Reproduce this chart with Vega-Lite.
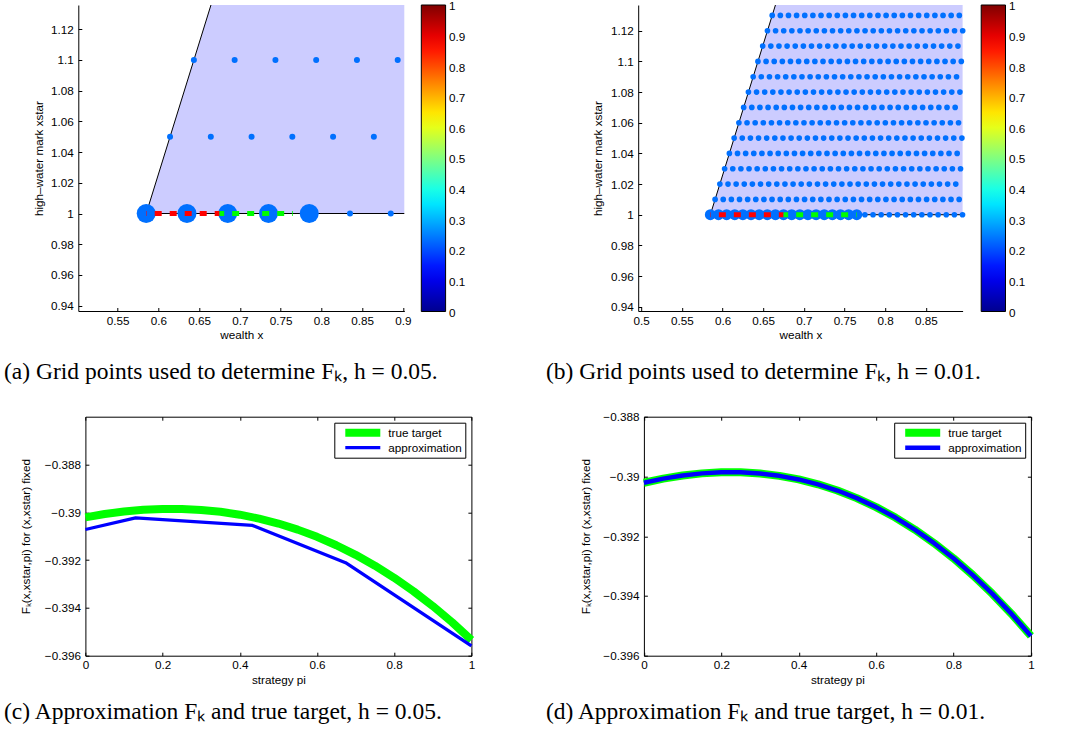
{
  "$schema": "https://vega.github.io/schema/vega-lite/v6.json",
  "autosize": {"type": "none"},
  "padding": {"left": 78.3, "top": 5, "right": 1012.7, "bottom": 731},
  "background": "#ffffff",
  "columns": 2,
  "bounds": "flush",
  "align": "all",
  "spacing": {"row": 105.7, "column": 165.9},
  "resolve": {"scale": {"color": "independent", "strokeWidth": "independent"}, "legend": {"color": "independent", "strokeWidth": "independent"}},
  "config": {
    "view": {"stroke": null},
    "font": "Liberation Sans",
    "axis": {
      "labelFont": "Liberation Sans", "labelFontSize": 11.7, "labelColor": "#000",
      "titleFont": "Liberation Sans", "titleFontSize": 11.7, "titleFontWeight": "normal", "titleColor": "#000",
      "domainColor": "#000", "domainWidth": 1, "tickColor": "#000", "tickWidth": 1, "tickSize": -3.5,
      "grid": false, "labelFlush": false, "labelOverlap": false, "tickCount": 30
    },
    "axisX": {"labelPadding": 7.5, "titlePadding": 3},
    "axisY": {"labelPadding": 8.5, "titlePadding": 6.5},
    "title": {"font": "Liberation Serif", "fontSize": 23.5, "fontWeight": "normal", "color": "#000", "orient": "bottom", "anchor": "start", "frame": "group", "offset": 14}
  },
  "concat": [
    {
      "width": 326, "height": 306,
      "title": {"text": "(a) Grid points used to determine Fₖ, h = 0.05.", "dx": -74.3, "dy": 5},
      "layer": [
        {
          "data": {"values": [{"x": 0.585, "x2": 0.9016, "y": 1}, {"x": 0.66443, "x2": 0.9016, "y": 1.1358}]},
          "mark": {"type": "area", "orient": "horizontal", "color": "#ccccff", "opacity": 1},
          "encoding": {
            "y": {"field": "y", "type": "quantitative", "scale": {"domain": [0.9365, 1.1358], "nice": false, "zero": false}, "title": "high–water mark xstar", "axis": {"values": [0.94, 0.96, 0.98, 1, 1.02, 1.04, 1.06, 1.08, 1.1, 1.12], "tickCount": 30, "format": ".2~f", "labelOverlap": false}},
            "x": {"field": "x", "type": "quantitative", "scale": {"domain": [0.5017, 0.9016], "nice": false, "zero": false}, "title": "wealth x", "axis": {"values": [0.55, 0.6, 0.65, 0.7, 0.75, 0.8, 0.85, 0.9], "tickCount": 30, "format": ".2~f", "labelOverlap": false}},
            "x2": {"field": "x2"}
          }
        },
        {
          "data": {"values": [{"x": 0.66443, "y": 1.1358, "o": 1}, {"x": 0.585, "y": 1, "o": 2}, {"x": 0.9016, "y": 1, "o": 3}]},
          "mark": {"type": "line", "color": "#000", "strokeWidth": 1},
          "encoding": {
            "x": {"field": "x", "type": "quantitative", "scale": {"domain": [0.5017, 0.9016], "nice": false, "zero": false}, "title": "wealth x"},
            "y": {"field": "y", "type": "quantitative", "scale": {"domain": [0.9365, 1.1358], "nice": false, "zero": false}, "title": "high–water mark xstar"},
            "order": {"field": "o", "type": "quantitative"}
          }
        },
        {
          "data": {"values": [
            {"x": 0.6435, "y": 1.1}, {"x": 0.6935, "y": 1.1}, {"x": 0.7435, "y": 1.1}, {"x": 0.7935, "y": 1.1}, {"x": 0.8435, "y": 1.1}, {"x": 0.8935, "y": 1.1},
            {"x": 0.61425, "y": 1.05}, {"x": 0.66425, "y": 1.05}, {"x": 0.71425, "y": 1.05}, {"x": 0.76425, "y": 1.05}, {"x": 0.81425, "y": 1.05}, {"x": 0.86425, "y": 1.05},
            {"x": 0.835, "y": 1}, {"x": 0.885, "y": 1}
          ]},
          "mark": {"type": "circle", "size": 36, "color": "#0070ff", "opacity": 1},
          "encoding": {
            "x": {"field": "x", "type": "quantitative", "scale": {"domain": [0.5017, 0.9016], "nice": false, "zero": false}, "title": "wealth x"},
            "y": {"field": "y", "type": "quantitative", "scale": {"domain": [0.9365, 1.1358], "nice": false, "zero": false}, "title": "high–water mark xstar"}
          }
        },
        {
          "data": {"values": [{"x": 0.585, "y": 1}, {"x": 0.635, "y": 1}, {"x": 0.685, "y": 1}, {"x": 0.735, "y": 1}, {"x": 0.785, "y": 1}]},
          "mark": {"type": "circle", "size": 361, "color": "#0070ff", "opacity": 1},
          "encoding": {
            "x": {"field": "x", "type": "quantitative", "scale": {"domain": [0.5017, 0.9016], "nice": false, "zero": false}, "title": "wealth x"},
            "y": {"field": "y", "type": "quantitative", "scale": {"domain": [0.9365, 1.1358], "nice": false, "zero": false}, "title": "high–water mark xstar"}
          }
        },
        {
          "data": {"values": [{"x": 0.585, "x2": 0.675, "y": 1}]},
          "mark": {"type": "rule", "color": "#ff0000", "strokeWidth": 5, "strokeDash": [7, 8], "strokeDashOffset": 6.5},
          "encoding": {
            "x": {"field": "x", "type": "quantitative", "scale": {"domain": [0.5017, 0.9016], "nice": false, "zero": false}, "title": "wealth x"},
            "x2": {"field": "x2"},
            "y": {"field": "y", "type": "quantitative", "scale": {"domain": [0.9365, 1.1358], "nice": false, "zero": false}, "title": "high–water mark xstar"}
          }
        },
        {
          "data": {"values": [{"x": 0.675, "x2": 0.765, "y": 1}]},
          "mark": {"type": "rule", "color": "#00ff00", "strokeWidth": 5, "strokeDash": [7, 8], "strokeDashOffset": 2.4},
          "encoding": {
            "x": {"field": "x", "type": "quantitative", "scale": {"domain": [0.5017, 0.9016], "nice": false, "zero": false}, "title": "wealth x"},
            "x2": {"field": "x2"},
            "y": {"field": "y", "type": "quantitative", "scale": {"domain": [0.9365, 1.1358], "nice": false, "zero": false}, "title": "high–water mark xstar"}
          }
        },
        {
          "data": {"values": [{"v": 0}, {"v": 1}]},
          "mark": {"type": "square", "size": 0, "opacity": 1},
          "encoding": {
            "color": {"field": "v", "type": "quantitative",
              "scale": {"domain": [0, 0.125, 0.375, 0.625, 0.875, 1], "range": ["#00008f", "#0000ff", "#00ffff", "#ffff00", "#ff0000", "#800000"], "interpolate": "rgb"},
              "legend": {"orient": "right", "direction": "vertical", "offset": 17.4, "title": null, "padding": 0, "gradientLength": 306.5, "gradientThickness": 24.3, "gradientStrokeColor": "#000", "gradientStrokeWidth": 1, "gradientOpacity": 1, "values": [0, 0.1, 0.2, 0.3, 0.4, 0.5, 0.6, 0.7, 0.8, 0.9, 1], "format": ".1~f", "labelFont": "Liberation Sans", "labelFontSize": 11.7, "labelColor": "#000", "labelOffset": 3.5, "labelOverlap": false,
                "encode": {"labels": {"update": {"baseline": {"value": "middle"}, "dy": {"value": 1.2}}}, "gradient": {"update": {"opacity": {"value": 1}}}}}
            }
          }
        }
      ]
    },
    {
      "width": 324.4, "height": 306,
      "title": {"text": "(b) Grid points used to determine Fₖ, h = 0.01.", "dx": -92.3, "dy": 5},
      "layer": [
        {
          "data": {"values": [{"x": 0.585, "x2": 0.8951, "y": 1}, {"x": 0.66503, "x2": 0.8951, "y": 1.1368}]},
          "mark": {"type": "area", "orient": "horizontal", "color": "#ccccff", "opacity": 1},
          "encoding": {
            "y": {"field": "y", "type": "quantitative", "scale": {"domain": [0.9372, 1.1368], "nice": false, "zero": false}, "title": "high–water mark xstar", "axis": {"values": [0.94, 0.96, 0.98, 1, 1.02, 1.04, 1.06, 1.08, 1.1, 1.12], "tickCount": 30, "format": ".2~f", "labelOverlap": false}},
            "x": {"field": "x", "type": "quantitative", "scale": {"domain": [0.4963, 0.8951], "nice": false, "zero": false}, "title": "wealth x", "axis": {"values": [0.5, 0.55, 0.6, 0.65, 0.7, 0.75, 0.8, 0.85], "tickCount": 30, "format": ".2~f", "labelOverlap": false}},
            "x2": {"field": "x2"}
          }
        },
        {
          "data": {"values": [{"x": 0.66503, "y": 1.1368, "o": 1}, {"x": 0.585, "y": 1, "o": 2}, {"x": 0.8951, "y": 1, "o": 3}]},
          "mark": {"type": "line", "color": "#000", "strokeWidth": 1},
          "encoding": {
            "x": {"field": "x", "type": "quantitative", "scale": {"domain": [0.4963, 0.8951], "nice": false, "zero": false}, "title": "wealth x"},
            "y": {"field": "y", "type": "quantitative", "scale": {"domain": [0.9372, 1.1368], "nice": false, "zero": false}, "title": "high–water mark xstar"},
            "order": {"field": "o", "type": "quantitative"}
          }
        },
        {
          "data": {"values": [
            {"x":0.775,"y":1},{"x":0.785,"y":1},{"x":0.795,"y":1},{"x":0.805,"y":1},{"x":0.815,"y":1},{"x":0.825,"y":1},{"x":0.835,"y":1},{"x":0.845,"y":1},{"x":0.855,"y":1},{"x":0.865,"y":1},{"x":0.875,"y":1},{"x":0.885,"y":1},{"x":0.895,"y":1},
            {"x":0.59085,"y":1.01},{"x":0.60085,"y":1.01},{"x":0.61085,"y":1.01},{"x":0.62085,"y":1.01},{"x":0.63085,"y":1.01},{"x":0.64085,"y":1.01},{"x":0.65085,"y":1.01},{"x":0.66085,"y":1.01},{"x":0.67085,"y":1.01},{"x":0.68085,"y":1.01},{"x":0.69085,"y":1.01},{"x":0.70085,"y":1.01},{"x":0.71085,"y":1.01},{"x":0.72085,"y":1.01},{"x":0.73085,"y":1.01},{"x":0.74085,"y":1.01},{"x":0.75085,"y":1.01},{"x":0.76085,"y":1.01},{"x":0.77085,"y":1.01},{"x":0.78085,"y":1.01},{"x":0.79085,"y":1.01},{"x":0.80085,"y":1.01},{"x":0.81085,"y":1.01},{"x":0.82085,"y":1.01},{"x":0.83085,"y":1.01},{"x":0.84085,"y":1.01},{"x":0.85085,"y":1.01},{"x":0.86085,"y":1.01},{"x":0.87085,"y":1.01},{"x":0.88085,"y":1.01},{"x":0.89085,"y":1.01},
            {"x":0.5967,"y":1.02},{"x":0.6067,"y":1.02},{"x":0.6167,"y":1.02},{"x":0.6267,"y":1.02},{"x":0.6367,"y":1.02},{"x":0.6467,"y":1.02},{"x":0.6567,"y":1.02},{"x":0.6667,"y":1.02},{"x":0.6767,"y":1.02},{"x":0.6867,"y":1.02},{"x":0.6967,"y":1.02},{"x":0.7067,"y":1.02},{"x":0.7167,"y":1.02},{"x":0.7267,"y":1.02},{"x":0.7367,"y":1.02},{"x":0.7467,"y":1.02},{"x":0.7567,"y":1.02},{"x":0.7667,"y":1.02},{"x":0.7767,"y":1.02},{"x":0.7867,"y":1.02},{"x":0.7967,"y":1.02},{"x":0.8067,"y":1.02},{"x":0.8167,"y":1.02},{"x":0.8267,"y":1.02},{"x":0.8367,"y":1.02},{"x":0.8467,"y":1.02},{"x":0.8567,"y":1.02},{"x":0.8667,"y":1.02},{"x":0.8767,"y":1.02},{"x":0.8867,"y":1.02},
            {"x":0.60255,"y":1.03},{"x":0.61255,"y":1.03},{"x":0.62255,"y":1.03},{"x":0.63255,"y":1.03},{"x":0.64255,"y":1.03},{"x":0.65255,"y":1.03},{"x":0.66255,"y":1.03},{"x":0.67255,"y":1.03},{"x":0.68255,"y":1.03},{"x":0.69255,"y":1.03},{"x":0.70255,"y":1.03},{"x":0.71255,"y":1.03},{"x":0.72255,"y":1.03},{"x":0.73255,"y":1.03},{"x":0.74255,"y":1.03},{"x":0.75255,"y":1.03},{"x":0.76255,"y":1.03},{"x":0.77255,"y":1.03},{"x":0.78255,"y":1.03},{"x":0.79255,"y":1.03},{"x":0.80255,"y":1.03},{"x":0.81255,"y":1.03},{"x":0.82255,"y":1.03},{"x":0.83255,"y":1.03},{"x":0.84255,"y":1.03},{"x":0.85255,"y":1.03},{"x":0.86255,"y":1.03},{"x":0.87255,"y":1.03},{"x":0.88255,"y":1.03},{"x":0.89255,"y":1.03},
            {"x":0.6084,"y":1.04},{"x":0.6184,"y":1.04},{"x":0.6284,"y":1.04},{"x":0.6384,"y":1.04},{"x":0.6484,"y":1.04},{"x":0.6584,"y":1.04},{"x":0.6684,"y":1.04},{"x":0.6784,"y":1.04},{"x":0.6884,"y":1.04},{"x":0.6984,"y":1.04},{"x":0.7084,"y":1.04},{"x":0.7184,"y":1.04},{"x":0.7284,"y":1.04},{"x":0.7384,"y":1.04},{"x":0.7484,"y":1.04},{"x":0.7584,"y":1.04},{"x":0.7684,"y":1.04},{"x":0.7784,"y":1.04},{"x":0.7884,"y":1.04},{"x":0.7984,"y":1.04},{"x":0.8084,"y":1.04},{"x":0.8184,"y":1.04},{"x":0.8284,"y":1.04},{"x":0.8384,"y":1.04},{"x":0.8484,"y":1.04},{"x":0.8584,"y":1.04},{"x":0.8684,"y":1.04},{"x":0.8784,"y":1.04},{"x":0.8884,"y":1.04},
            {"x":0.61425,"y":1.05},{"x":0.62425,"y":1.05},{"x":0.63425,"y":1.05},{"x":0.64425,"y":1.05},{"x":0.65425,"y":1.05},{"x":0.66425,"y":1.05},{"x":0.67425,"y":1.05},{"x":0.68425,"y":1.05},{"x":0.69425,"y":1.05},{"x":0.70425,"y":1.05},{"x":0.71425,"y":1.05},{"x":0.72425,"y":1.05},{"x":0.73425,"y":1.05},{"x":0.74425,"y":1.05},{"x":0.75425,"y":1.05},{"x":0.76425,"y":1.05},{"x":0.77425,"y":1.05},{"x":0.78425,"y":1.05},{"x":0.79425,"y":1.05},{"x":0.80425,"y":1.05},{"x":0.81425,"y":1.05},{"x":0.82425,"y":1.05},{"x":0.83425,"y":1.05},{"x":0.84425,"y":1.05},{"x":0.85425,"y":1.05},{"x":0.86425,"y":1.05},{"x":0.87425,"y":1.05},{"x":0.88425,"y":1.05},{"x":0.89425,"y":1.05},
            {"x":0.6201,"y":1.06},{"x":0.6301,"y":1.06},{"x":0.6401,"y":1.06},{"x":0.6501,"y":1.06},{"x":0.6601,"y":1.06},{"x":0.6701,"y":1.06},{"x":0.6801,"y":1.06},{"x":0.6901,"y":1.06},{"x":0.7001,"y":1.06},{"x":0.7101,"y":1.06},{"x":0.7201,"y":1.06},{"x":0.7301,"y":1.06},{"x":0.7401,"y":1.06},{"x":0.7501,"y":1.06},{"x":0.7601,"y":1.06},{"x":0.7701,"y":1.06},{"x":0.7801,"y":1.06},{"x":0.7901,"y":1.06},{"x":0.8001,"y":1.06},{"x":0.8101,"y":1.06},{"x":0.8201,"y":1.06},{"x":0.8301,"y":1.06},{"x":0.8401,"y":1.06},{"x":0.8501,"y":1.06},{"x":0.8601,"y":1.06},{"x":0.8701,"y":1.06},{"x":0.8801,"y":1.06},{"x":0.8901,"y":1.06},
            {"x":0.62595,"y":1.07},{"x":0.63595,"y":1.07},{"x":0.64595,"y":1.07},{"x":0.65595,"y":1.07},{"x":0.66595,"y":1.07},{"x":0.67595,"y":1.07},{"x":0.68595,"y":1.07},{"x":0.69595,"y":1.07},{"x":0.70595,"y":1.07},{"x":0.71595,"y":1.07},{"x":0.72595,"y":1.07},{"x":0.73595,"y":1.07},{"x":0.74595,"y":1.07},{"x":0.75595,"y":1.07},{"x":0.76595,"y":1.07},{"x":0.77595,"y":1.07},{"x":0.78595,"y":1.07},{"x":0.79595,"y":1.07},{"x":0.80595,"y":1.07},{"x":0.81595,"y":1.07},{"x":0.82595,"y":1.07},{"x":0.83595,"y":1.07},{"x":0.84595,"y":1.07},{"x":0.85595,"y":1.07},{"x":0.86595,"y":1.07},{"x":0.87595,"y":1.07},{"x":0.88595,"y":1.07},
            {"x":0.6318,"y":1.08},{"x":0.6418,"y":1.08},{"x":0.6518,"y":1.08},{"x":0.6618,"y":1.08},{"x":0.6718,"y":1.08},{"x":0.6818,"y":1.08},{"x":0.6918,"y":1.08},{"x":0.7018,"y":1.08},{"x":0.7118,"y":1.08},{"x":0.7218,"y":1.08},{"x":0.7318,"y":1.08},{"x":0.7418,"y":1.08},{"x":0.7518,"y":1.08},{"x":0.7618,"y":1.08},{"x":0.7718,"y":1.08},{"x":0.7818,"y":1.08},{"x":0.7918,"y":1.08},{"x":0.8018,"y":1.08},{"x":0.8118,"y":1.08},{"x":0.8218,"y":1.08},{"x":0.8318,"y":1.08},{"x":0.8418,"y":1.08},{"x":0.8518,"y":1.08},{"x":0.8618,"y":1.08},{"x":0.8718,"y":1.08},{"x":0.8818,"y":1.08},{"x":0.8918,"y":1.08},
            {"x":0.63765,"y":1.09},{"x":0.64765,"y":1.09},{"x":0.65765,"y":1.09},{"x":0.66765,"y":1.09},{"x":0.67765,"y":1.09},{"x":0.68765,"y":1.09},{"x":0.69765,"y":1.09},{"x":0.70765,"y":1.09},{"x":0.71765,"y":1.09},{"x":0.72765,"y":1.09},{"x":0.73765,"y":1.09},{"x":0.74765,"y":1.09},{"x":0.75765,"y":1.09},{"x":0.76765,"y":1.09},{"x":0.77765,"y":1.09},{"x":0.78765,"y":1.09},{"x":0.79765,"y":1.09},{"x":0.80765,"y":1.09},{"x":0.81765,"y":1.09},{"x":0.82765,"y":1.09},{"x":0.83765,"y":1.09},{"x":0.84765,"y":1.09},{"x":0.85765,"y":1.09},{"x":0.86765,"y":1.09},{"x":0.87765,"y":1.09},{"x":0.88765,"y":1.09},
            {"x":0.6435,"y":1.1},{"x":0.6535,"y":1.1},{"x":0.6635,"y":1.1},{"x":0.6735,"y":1.1},{"x":0.6835,"y":1.1},{"x":0.6935,"y":1.1},{"x":0.7035,"y":1.1},{"x":0.7135,"y":1.1},{"x":0.7235,"y":1.1},{"x":0.7335,"y":1.1},{"x":0.7435,"y":1.1},{"x":0.7535,"y":1.1},{"x":0.7635,"y":1.1},{"x":0.7735,"y":1.1},{"x":0.7835,"y":1.1},{"x":0.7935,"y":1.1},{"x":0.8035,"y":1.1},{"x":0.8135,"y":1.1},{"x":0.8235,"y":1.1},{"x":0.8335,"y":1.1},{"x":0.8435,"y":1.1},{"x":0.8535,"y":1.1},{"x":0.8635,"y":1.1},{"x":0.8735,"y":1.1},{"x":0.8835,"y":1.1},{"x":0.8935,"y":1.1},
            {"x":0.64935,"y":1.11},{"x":0.65935,"y":1.11},{"x":0.66935,"y":1.11},{"x":0.67935,"y":1.11},{"x":0.68935,"y":1.11},{"x":0.69935,"y":1.11},{"x":0.70935,"y":1.11},{"x":0.71935,"y":1.11},{"x":0.72935,"y":1.11},{"x":0.73935,"y":1.11},{"x":0.74935,"y":1.11},{"x":0.75935,"y":1.11},{"x":0.76935,"y":1.11},{"x":0.77935,"y":1.11},{"x":0.78935,"y":1.11},{"x":0.79935,"y":1.11},{"x":0.80935,"y":1.11},{"x":0.81935,"y":1.11},{"x":0.82935,"y":1.11},{"x":0.83935,"y":1.11},{"x":0.84935,"y":1.11},{"x":0.85935,"y":1.11},{"x":0.86935,"y":1.11},{"x":0.87935,"y":1.11},{"x":0.88935,"y":1.11},
            {"x":0.6552,"y":1.12},{"x":0.6652,"y":1.12},{"x":0.6752,"y":1.12},{"x":0.6852,"y":1.12},{"x":0.6952,"y":1.12},{"x":0.7052,"y":1.12},{"x":0.7152,"y":1.12},{"x":0.7252,"y":1.12},{"x":0.7352,"y":1.12},{"x":0.7452,"y":1.12},{"x":0.7552,"y":1.12},{"x":0.7652,"y":1.12},{"x":0.7752,"y":1.12},{"x":0.7852,"y":1.12},{"x":0.7952,"y":1.12},{"x":0.8052,"y":1.12},{"x":0.8152,"y":1.12},{"x":0.8252,"y":1.12},{"x":0.8352,"y":1.12},{"x":0.8452,"y":1.12},{"x":0.8552,"y":1.12},{"x":0.8652,"y":1.12},{"x":0.8752,"y":1.12},{"x":0.8852,"y":1.12},{"x":0.8952,"y":1.12},
            {"x":0.66105,"y":1.13},{"x":0.67105,"y":1.13},{"x":0.68105,"y":1.13},{"x":0.69105,"y":1.13},{"x":0.70105,"y":1.13},{"x":0.71105,"y":1.13},{"x":0.72105,"y":1.13},{"x":0.73105,"y":1.13},{"x":0.74105,"y":1.13},{"x":0.75105,"y":1.13},{"x":0.76105,"y":1.13},{"x":0.77105,"y":1.13},{"x":0.78105,"y":1.13},{"x":0.79105,"y":1.13},{"x":0.80105,"y":1.13},{"x":0.81105,"y":1.13},{"x":0.82105,"y":1.13},{"x":0.83105,"y":1.13},{"x":0.84105,"y":1.13},{"x":0.85105,"y":1.13},{"x":0.86105,"y":1.13},{"x":0.87105,"y":1.13},{"x":0.88105,"y":1.13},{"x":0.89105,"y":1.13}
          ]},
          "mark": {"type": "circle", "size": 32, "color": "#0070ff", "opacity": 1},
          "encoding": {
            "x": {"field": "x", "type": "quantitative", "scale": {"domain": [0.4963, 0.8951], "nice": false, "zero": false}, "title": "wealth x"},
            "y": {"field": "y", "type": "quantitative", "scale": {"domain": [0.9372, 1.1368], "nice": false, "zero": false}, "title": "high–water mark xstar"}
          }
        },
        {
          "data": {"values": [
            {"x":0.585,"y":1},{"x":0.595,"y":1},{"x":0.605,"y":1},{"x":0.615,"y":1},{"x":0.625,"y":1},{"x":0.635,"y":1},{"x":0.645,"y":1},{"x":0.655,"y":1},{"x":0.665,"y":1},{"x":0.675,"y":1},{"x":0.685,"y":1},{"x":0.695,"y":1},{"x":0.705,"y":1},{"x":0.715,"y":1},{"x":0.725,"y":1},{"x":0.735,"y":1},{"x":0.745,"y":1},{"x":0.755,"y":1},{"x":0.765,"y":1}
          ]},
          "mark": {"type": "circle", "size": 121, "color": "#0070ff", "opacity": 1},
          "encoding": {
            "x": {"field": "x", "type": "quantitative", "scale": {"domain": [0.4963, 0.8951], "nice": false, "zero": false}, "title": "wealth x"},
            "y": {"field": "y", "type": "quantitative", "scale": {"domain": [0.9372, 1.1368], "nice": false, "zero": false}, "title": "high–water mark xstar"}
          }
        },
        {
          "data": {"values": [{"x": 0.585, "x2": 0.675, "y": 1}]},
          "mark": {"type": "rule", "color": "#ff0000", "strokeWidth": 5, "strokeDash": [7, 8], "strokeDashOffset": 6.5},
          "encoding": {
            "x": {"field": "x", "type": "quantitative", "scale": {"domain": [0.4963, 0.8951], "nice": false, "zero": false}, "title": "wealth x"},
            "x2": {"field": "x2"},
            "y": {"field": "y", "type": "quantitative", "scale": {"domain": [0.9372, 1.1368], "nice": false, "zero": false}, "title": "high–water mark xstar"}
          }
        },
        {
          "data": {"values": [{"x": 0.675, "x2": 0.765, "y": 1}]},
          "mark": {"type": "rule", "color": "#00ff00", "strokeWidth": 5, "strokeDash": [7, 8], "strokeDashOffset": 2.4},
          "encoding": {
            "x": {"field": "x", "type": "quantitative", "scale": {"domain": [0.4963, 0.8951], "nice": false, "zero": false}, "title": "wealth x"},
            "x2": {"field": "x2"},
            "y": {"field": "y", "type": "quantitative", "scale": {"domain": [0.9372, 1.1368], "nice": false, "zero": false}, "title": "high–water mark xstar"}
          }
        },
        {
          "data": {"values": [{"v": 0}, {"v": 1}]},
          "mark": {"type": "square", "size": 0, "opacity": 1},
          "encoding": {
            "color": {"field": "v", "type": "quantitative",
              "scale": {"domain": [0, 0.125, 0.375, 0.625, 0.875, 1], "range": ["#00008f", "#0000ff", "#00ffff", "#ffff00", "#ff0000", "#800000"], "interpolate": "rgb"},
              "legend": {"orient": "right", "direction": "vertical", "offset": 17.6, "title": null, "padding": 0, "gradientLength": 306.5, "gradientThickness": 24.3, "gradientStrokeColor": "#000", "gradientStrokeWidth": 1, "gradientOpacity": 1, "values": [0, 0.1, 0.2, 0.3, 0.4, 0.5, 0.6, 0.7, 0.8, 0.9, 1], "format": ".1~f", "labelFont": "Liberation Sans", "labelFontSize": 11.7, "labelColor": "#000", "labelOffset": 3.5, "labelOverlap": false,
                "encode": {"labels": {"update": {"baseline": {"value": "middle"}, "dy": {"value": 1.2}}}, "gradient": {"update": {"opacity": {"value": 1}}}}}
            }
          }
        }
      ]
    },
    {
      "width": 393.1, "height": 239,
      "title": {"text": "(c) Approximation Fₖ and true target, h = 0.05.", "dx": -74.3, "dy": 0},
      "resolve": {"axis": {"x": "independent", "y": "independent"}},
      "layer": [
        {
          "data": {"values": [
            {"pi":0,"F":-0.39021,"series":"true target"},{"pi":0.05,"F":-0.390073,"series":"true target"},{"pi":0.1,"F":-0.389968,"series":"true target"},{"pi":0.15,"F":-0.389897,"series":"true target"},{"pi":0.2,"F":-0.389861,"series":"true target"},{"pi":0.25,"F":-0.389862,"series":"true target"},{"pi":0.3,"F":-0.389901,"series":"true target"},{"pi":0.35,"F":-0.38998,"series":"true target"},{"pi":0.4,"F":-0.3901,"series":"true target"},{"pi":0.45,"F":-0.390263,"series":"true target"},{"pi":0.5,"F":-0.390471,"series":"true target"},{"pi":0.55,"F":-0.390725,"series":"true target"},{"pi":0.6,"F":-0.391027,"series":"true target"},{"pi":0.65,"F":-0.391377,"series":"true target"},{"pi":0.7,"F":-0.391779,"series":"true target"},{"pi":0.75,"F":-0.392233,"series":"true target"},{"pi":0.8,"F":-0.39274,"series":"true target"},{"pi":0.85,"F":-0.393303,"series":"true target"},{"pi":0.9,"F":-0.393923,"series":"true target"},{"pi":0.95,"F":-0.394601,"series":"true target"},{"pi":1,"F":-0.39534,"series":"true target"}
          ]},
          "mark": {"type": "line", "strokeCap": "butt", "strokeJoin": "round"},
          "encoding": {
            "x": {"field": "pi", "type": "quantitative", "scale": {"domain": [0, 1], "range": [7.1, 393.1], "nice": false, "zero": false}, "title": "strategy pi", "axis": {"orient": "bottom", "values": [0, 0.2, 0.4, 0.6, 0.8, 1], "format": ".1~f"}},
            "y": {"field": "F", "type": "quantitative", "scale": {"domain": [-0.396, -0.386], "nice": false, "zero": false}, "title": "Fₖ(x,xstar,pi) for (x,xstar) fixed", "axis": {"orient": "left", "offset": -7.1, "titlePadding": 13, "values": [-0.396, -0.394, -0.392, -0.39, -0.388], "format": ".3~f"}},
            "color": {"field": "series", "type": "nominal", "scale": {"domain": ["true target", "approximation"], "range": ["#00ff00", "#0000ff"]},
              "legend": {"orient": "top-right", "offset": 6, "title": null, "strokeColor": "#000", "fillColor": "#fff", "padding": 3, "symbolType": "stroke", "symbolSize": 1225, "clipHeight": 14, "labelFont": "Liberation Sans", "labelFontSize": 11.7, "labelColor": "#000", "labelOffset": 4, "rowPadding": 1, "symbolOffset": 4,
                "encode": {"symbols": {"update": {"strokeWidth": {"signal": "datum.value === 'true target' ? 7 : 3"}}}}}},
            "strokeWidth": {"field": "series", "type": "nominal", "scale": {"type": "point", "domain": ["true target", "approximation"], "range": [8, 3.3], "padding": 0}, "legend": null}
          }
        },
        {
          "data": {"values": [
            {"pi":0,"F":-0.39072,"series":"approximation"},{"pi":0.13,"F":-0.39023,"series":"approximation"},{"pi":0.433,"F":-0.39055,"series":"approximation"},{"pi":0.674,"F":-0.39211,"series":"approximation"},{"pi":1,"F":-0.39559,"series":"approximation"}
          ]},
          "mark": {"type": "line", "strokeCap": "butt", "strokeJoin": "round"},
          "encoding": {
            "x": {"field": "pi", "type": "quantitative", "scale": {"domain": [0, 1], "range": [7.1, 393.1], "nice": false, "zero": false}, "axis": {"orient": "top", "labels": false, "title": null, "values": [0, 0.2, 0.4, 0.6, 0.8, 1]}},
            "y": {"field": "F", "type": "quantitative", "scale": {"domain": [-0.396, -0.386], "nice": false, "zero": false}, "axis": {"orient": "right", "labels": false, "title": null, "values": [-0.396, -0.394, -0.392, -0.39, -0.388]}},
            "color": {"field": "series", "type": "nominal", "scale": {"domain": ["true target", "approximation"], "range": ["#00ff00", "#0000ff"]}},
            "strokeWidth": {"field": "series", "type": "nominal", "scale": {"type": "point", "domain": ["true target", "approximation"], "range": [8, 3.3], "padding": 0}, "legend": null}
          }
        }
      ]
    },
    {
      "width": 392.7, "height": 239,
      "title": {"text": "(d) Approximation Fₖ and true target, h = 0.01.", "dx": -92.3, "dy": 0},
      "resolve": {"axis": {"x": "independent", "y": "independent"}},
      "layer": [
        {
          "data": {"values": [
            {"pi":0,"F":-0.39021,"series":"true target"},{"pi":0.05,"F":-0.390073,"series":"true target"},{"pi":0.1,"F":-0.389968,"series":"true target"},{"pi":0.15,"F":-0.389897,"series":"true target"},{"pi":0.2,"F":-0.389861,"series":"true target"},{"pi":0.25,"F":-0.389862,"series":"true target"},{"pi":0.3,"F":-0.389901,"series":"true target"},{"pi":0.35,"F":-0.38998,"series":"true target"},{"pi":0.4,"F":-0.3901,"series":"true target"},{"pi":0.45,"F":-0.390263,"series":"true target"},{"pi":0.5,"F":-0.390471,"series":"true target"},{"pi":0.55,"F":-0.390725,"series":"true target"},{"pi":0.6,"F":-0.391027,"series":"true target"},{"pi":0.65,"F":-0.391377,"series":"true target"},{"pi":0.7,"F":-0.391779,"series":"true target"},{"pi":0.75,"F":-0.392233,"series":"true target"},{"pi":0.8,"F":-0.39274,"series":"true target"},{"pi":0.85,"F":-0.393303,"series":"true target"},{"pi":0.9,"F":-0.393923,"series":"true target"},{"pi":0.95,"F":-0.394601,"series":"true target"},{"pi":1,"F":-0.39534,"series":"true target"}
          ]},
          "mark": {"type": "line", "strokeCap": "butt", "strokeJoin": "round"},
          "encoding": {
            "x": {"field": "pi", "type": "quantitative", "scale": {"domain": [0, 1], "range": [5.7, 392.7], "nice": false, "zero": false}, "title": "strategy pi", "axis": {"orient": "bottom", "values": [0, 0.2, 0.4, 0.6, 0.8, 1], "format": ".1~f"}},
            "y": {"field": "F", "type": "quantitative", "scale": {"domain": [-0.396, -0.388], "nice": false, "zero": false}, "title": "Fₖ(x,xstar,pi) for (x,xstar) fixed", "axis": {"orient": "left", "offset": -5.7, "titlePadding": 11, "values": [-0.396, -0.394, -0.392, -0.39, -0.388], "format": ".3~f"}},
            "color": {"field": "series", "type": "nominal", "scale": {"domain": ["true target", "approximation"], "range": ["#00ff00", "#0000ff"]},
              "legend": {"orient": "top-right", "offset": 6, "title": null, "strokeColor": "#000", "fillColor": "#fff", "padding": 3, "symbolType": "stroke", "symbolSize": 1225, "clipHeight": 14, "labelFont": "Liberation Sans", "labelFontSize": 11.7, "labelColor": "#000", "labelOffset": 4, "rowPadding": 1, "symbolOffset": 4,
                "encode": {"symbols": {"update": {"strokeWidth": {"signal": "datum.value === 'true target' ? 7 : 4"}}}}}},
            "strokeWidth": {"field": "series", "type": "nominal", "scale": {"type": "point", "domain": ["true target", "approximation"], "range": [8, 4.5], "padding": 0}, "legend": null}
          }
        },
        {
          "data": {"values": [
            {"pi":0,"F":-0.39021,"series":"approximation"},{"pi":0.05,"F":-0.390073,"series":"approximation"},{"pi":0.1,"F":-0.389968,"series":"approximation"},{"pi":0.15,"F":-0.389897,"series":"approximation"},{"pi":0.2,"F":-0.389861,"series":"approximation"},{"pi":0.25,"F":-0.389862,"series":"approximation"},{"pi":0.3,"F":-0.389901,"series":"approximation"},{"pi":0.35,"F":-0.38998,"series":"approximation"},{"pi":0.4,"F":-0.3901,"series":"approximation"},{"pi":0.45,"F":-0.390263,"series":"approximation"},{"pi":0.5,"F":-0.390471,"series":"approximation"},{"pi":0.55,"F":-0.390725,"series":"approximation"},{"pi":0.6,"F":-0.391027,"series":"approximation"},{"pi":0.65,"F":-0.391377,"series":"approximation"},{"pi":0.7,"F":-0.391779,"series":"approximation"},{"pi":0.75,"F":-0.392233,"series":"approximation"},{"pi":0.8,"F":-0.39274,"series":"approximation"},{"pi":0.85,"F":-0.393303,"series":"approximation"},{"pi":0.9,"F":-0.393923,"series":"approximation"},{"pi":0.95,"F":-0.394601,"series":"approximation"},{"pi":1,"F":-0.39534,"series":"approximation"}
          ]},
          "mark": {"type": "line", "strokeCap": "butt", "strokeJoin": "round"},
          "encoding": {
            "x": {"field": "pi", "type": "quantitative", "scale": {"domain": [0, 1], "range": [5.7, 392.7], "nice": false, "zero": false}, "axis": {"orient": "top", "labels": false, "title": null, "values": [0, 0.2, 0.4, 0.6, 0.8, 1]}},
            "y": {"field": "F", "type": "quantitative", "scale": {"domain": [-0.396, -0.388], "nice": false, "zero": false}, "axis": {"orient": "right", "labels": false, "title": null, "values": [-0.396, -0.394, -0.392, -0.39, -0.388]}},
            "color": {"field": "series", "type": "nominal", "scale": {"domain": ["true target", "approximation"], "range": ["#00ff00", "#0000ff"]}},
            "strokeWidth": {"field": "series", "type": "nominal", "scale": {"type": "point", "domain": ["true target", "approximation"], "range": [8, 4.5], "padding": 0}, "legend": null}
          }
        }
      ]
    }
  ]
}
